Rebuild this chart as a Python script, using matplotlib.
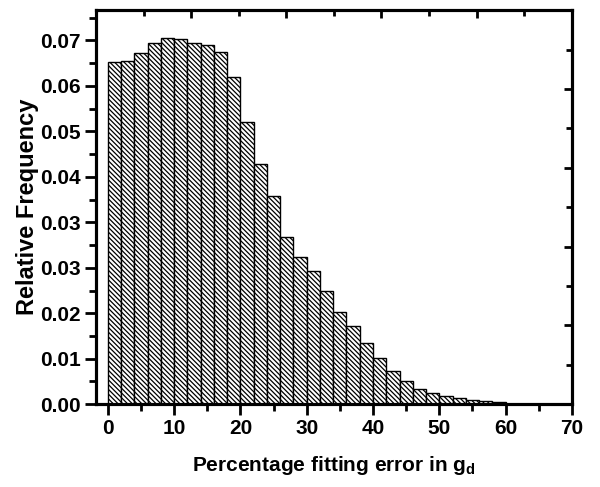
import matplotlib
matplotlib.use("Agg")
import matplotlib.pyplot as plt
import numpy as np
from matplotlib.ticker import FixedLocator, MultipleLocator

plt.rcParams['font.family'] = ['Liberation Sans', 'DejaVu Sans']
plt.rcParams['font.weight'] = 'bold'
plt.rcParams['mathtext.fontset'] = 'custom'
plt.rcParams['mathtext.rm'] = 'Liberation Sans:bold'
plt.rcParams['mathtext.bf'] = 'Liberation Sans:bold'
plt.rcParams['mathtext.it'] = 'Liberation Sans:bold'
plt.rcParams['hatch.linewidth'] = 0.9

# Data: bin left edges (percent) and relative frequencies
bin_left = [0, 2, 4, 6, 8, 10, 12, 14, 16, 18, 20, 22, 24, 26, 28,
            30, 32, 34, 36, 38, 40, 42, 44, 46, 48, 50, 52, 54, 56, 58]
rel_freq = [0.0658, 0.0661, 0.0676, 0.0694, 0.0704, 0.0703, 0.0695, 0.0692,
            0.0678, 0.0630, 0.0542, 0.0463, 0.0401, 0.0321, 0.0283, 0.0256,
            0.0217, 0.0178, 0.0150, 0.0117, 0.0088, 0.0064, 0.0044, 0.0029,
            0.0022, 0.0016, 0.0011, 0.0008, 0.0006, 0.0004]
bin_width = 2

y_tick_vals = [0.07 * i / 8 for i in range(9)]
y_tick_labels = ['0.00', '0.01', '0.02', '0.03', '0.03', '0.04', '0.05', '0.06', '0.07']
x_ticks = [0, 10, 20, 30, 40, 50, 60, 70]

fig = plt.figure(figsize=(6.0, 4.87), dpi=100)
ax = fig.add_axes([0.16, 0.170, 0.793, 0.809])

ax.bar(bin_left, rel_freq, width=bin_width, align='edge', color='white',
       edgecolor='black', linewidth=1.0, hatch='\\' * 7, zorder=2)

ax.set_xlim(-1.8, 70)
ax.set_ylim(0, 0.0758)

ax.xaxis.set_major_locator(FixedLocator(x_ticks))
ax.xaxis.set_minor_locator(MultipleLocator(5))
ax.yaxis.set_major_locator(FixedLocator(y_tick_vals))
ax.set_yticklabels(y_tick_labels)
ax.yaxis.set_minor_locator(FixedLocator([0.07 * (i + 0.5) / 8 for i in range(9)]))

ax.tick_params(axis='both', which='major', direction='out', length=8, width=2,
               labelsize=15, top=False, right=False, pad=3)
ax.tick_params(axis='both', which='minor', direction='out', length=5, width=2,
               top=False, right=False)
for lab in ax.get_xticklabels() + ax.get_yticklabels():
    lab.set_fontweight('bold')

for s in ax.spines.values():
    s.set_linewidth(2.2)

# top and right axes with their own evenly spaced ticks
axt = ax.twiny()
axt.set_xlim(0, 1)
axt.xaxis.set_major_locator(FixedLocator(np.linspace(0, 1, 6)))
axt.xaxis.set_minor_locator(FixedLocator(np.linspace(0.1, 0.9, 5)))
axt.tick_params(axis='x', which='major', direction='in', length=6, width=2, labeltop=False)
axt.tick_params(axis='x', which='minor', direction='in', length=4, width=2)
axr = ax.twinx()
axr.set_ylim(0, 1)
axr.yaxis.set_major_locator(FixedLocator(np.linspace(0, 1, 6)))
axr.yaxis.set_minor_locator(FixedLocator(np.linspace(0.1, 0.9, 5)))
axr.tick_params(axis='y', which='major', direction='in', length=6, width=2, labelright=False)
axr.tick_params(axis='y', which='minor', direction='in', length=4, width=2)
for a in (axt, axr):
    for s in a.spines.values():
        s.set_linewidth(2.2)

ax.set_xlabel(r'Percentage fitting error in g$_{\mathrm{d}}$', fontsize=15,
              fontweight='bold', labelpad=11)
ax.set_ylabel('Relative Frequency', fontsize=17, fontweight='bold', labelpad=1)

fig.savefig('out.png', dpi=100)
